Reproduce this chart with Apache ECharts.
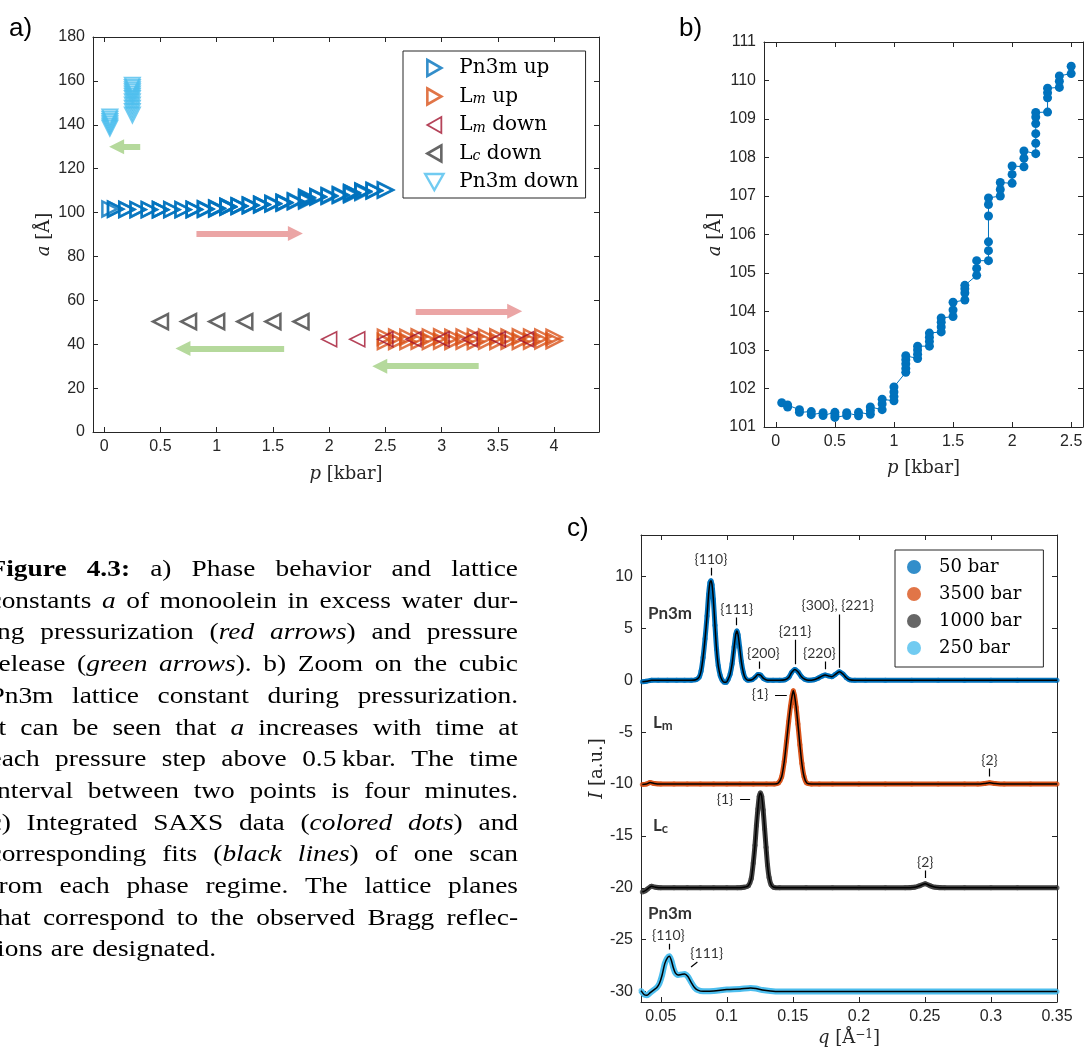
<!DOCTYPE html>
<html>
<head>
<meta charset="utf-8">
<title>Monoolein phase behaviour under pressure</title>
<script src="https://cdn.jsdelivr.net/npm/echarts@6/dist/echarts.min.js"></script>
<style>
  html, body { margin: 0; padding: 0; background: #fff; }
  #chart { width: 1084px; height: 1057px; }
</style>
</head>
<body>
<div id="chart"></div>
<script>
// ---------- panel a / b : lattice constant a [Å] vs p [kbar] ----------
const pn3mUpP = [0.05, 0.1, 0.1, 0.2, 0.2, 0.3, 0.3, 0.4, 0.4, 0.5, 0.5, 0.5, 0.6, 0.6, 0.7, 0.7,
  0.8, 0.8, 0.8, 0.9, 0.9, 0.9, 1, 1, 1, 1, 1.1, 1.1, 1.1, 1.1, 1.1, 1.2, 1.2, 1.2, 1.2,
  1.3, 1.3, 1.3, 1.3, 1.4, 1.4, 1.4, 1.4, 1.5, 1.5, 1.5, 1.6, 1.6, 1.6, 1.6, 1.7, 1.7, 1.7,
  1.8, 1.8, 1.8, 1.8, 1.8, 1.8, 1.9, 1.9, 1.9, 2, 2, 2, 2.1, 2.1, 2.1,
  2.2, 2.2, 2.2, 2.2, 2.2, 2.2, 2.3, 2.3, 2.3, 2.3, 2.4, 2.4, 2.4, 2.5, 2.5];
const pn3mUpA = [101.63, 101.57, 101.52, 101.45, 101.38, 101.40, 101.32, 101.37, 101.30,
  101.38, 101.31, 101.25, 101.30, 101.37, 101.29, 101.38, 101.33, 101.43, 101.52,
  101.45, 101.60, 101.72, 101.68, 101.79, 101.91, 102.04, 102.42, 102.52, 102.64, 102.75, 102.85,
  102.78, 102.89, 103.00, 103.10, 103.10, 103.22, 103.33, 103.44, 103.47, 103.60, 103.72, 103.83,
  103.87, 104.04, 104.24, 104.30, 104.48, 104.59, 104.68, 104.94, 105.12, 105.32,
  105.32, 105.58, 105.81, 106.48, 106.78, 106.95, 107.00, 107.17, 107.35, 107.33, 107.56, 107.78,
  107.76, 107.98, 108.17, 108.10, 108.37, 108.62, 108.88, 109.05, 109.17,
  109.18, 109.55, 109.68, 109.80, 109.82, 109.98, 110.12, 110.18, 110.37];

const lmUpP = [2.5, 2.5, 2.6, 2.6, 2.7, 2.7, 2.8, 2.8, 2.9, 2.9, 3.0, 3.0, 3.1, 3.1, 3.2, 3.2,
  3.3, 3.3, 3.4, 3.4, 3.5, 3.5, 3.6, 3.6, 3.7, 3.7, 3.8, 3.8, 3.9, 3.9, 4.0, 4.0];
const lmUpA = [41.2, 43.2, 41.3, 43.3, 41.2, 43.2, 41.4, 43.4, 41.3, 43.3, 41.4, 43.4, 41.3, 43.2,
  41.4, 43.3, 41.3, 43.4, 41.4, 43.3, 41.3, 43.4, 41.4, 43.3, 41.3, 43.4, 41.4, 43.3, 41.5, 43.3, 41.6, 43.2];
const lmDownP = [3.75, 3.5, 3.25, 3.0, 2.75, 2.5, 2.25, 2.0];
const lmDownA = [42.3, 42.3, 42.3, 42.3, 42.3, 42.3, 42.3, 42.3];
const lcDownP = [1.75, 1.5, 1.25, 1.0, 0.75, 0.5];
const lcDownA = [50.3, 50.3, 50.3, 50.3, 50.3, 50.3];
const pn3mDownP = [0.25, 0.25, 0.25, 0.25, 0.25, 0.25, 0.25, 0.25, 0.25, 0.25, 0.25, 0.25,
  0.05, 0.05, 0.05, 0.05, 0.05, 0.05];
const pn3mDownA = [158, 157, 156, 155, 154, 153, 152, 150.5, 149, 147.5, 146, 144.5,
  143.5, 142.5, 141.5, 140.5, 139.5, 138.5];

// arrows: tail p, tail a, head p, head a, direction
const arrowsA = [
  [0.82, 90.5, 1.70, 90.5, 'up'],
  [2.77, 55, 3.65, 55, 'up'],
  [0.32, 130, 0.11, 130, 'down'],
  [1.60, 38, 0.70, 38, 'down'],
  [3.33, 30, 2.45, 30, 'down'],
];

const aTicksX = [0, 0.5, 1, 1.5, 2, 2.5, 3, 3.5, 4];
const aTicksY = [0, 20, 40, 60, 80, 100, 120, 140, 160, 180];
const bTicksX = [0, 0.5, 1, 1.5, 2, 2.5];
const bTicksY = [101, 102, 103, 104, 105, 106, 107, 108, 109, 110, 111];

// ---------- panel c : SAXS intensity I vs q [1/Å], offset by scan ----------
const c50 = [[0.036, -0.15], [0.039, -0.1], [0.043, 0], [0.048, 0], [0.055, 0], [0.062, 0], [0.068, 0],
  [0.073, 0], [0.0765, 0.05], [0.079, 0.3], [0.0805, 0.9], [0.082, 2.2], [0.0835, 4.0], [0.085, 6.2],
  [0.0862, 8.3], [0.0872, 9.4], [0.088, 9.6], [0.0888, 9.2], [0.0898, 7.8], [0.091, 5.3], [0.0922, 3.0],
  [0.0935, 1.4], [0.095, 0.45], [0.0965, 0.0], [0.098, -0.2], [0.0995, -0.2], [0.101, 0.1], [0.1025, 0.6],
  [0.104, 1.6], [0.1055, 3.2], [0.1067, 4.4], [0.1076, 4.75], [0.1085, 4.4], [0.1097, 3.2], [0.111, 1.8],
  [0.1125, 0.75], [0.114, 0.2], [0.116, 0.0], [0.119, 0.05], [0.1215, 0.3], [0.1235, 0.55], [0.1255, 0.5],
  [0.128, 0.15], [0.131, 0.0], [0.135, 0], [0.14, 0], [0.144, 0.05], [0.147, 0.3], [0.149, 0.75],
  [0.1515, 1.05], [0.154, 0.8], [0.1565, 0.35], [0.159, 0.1], [0.162, 0.0], [0.166, 0.05], [0.169, 0.2],
  [0.172, 0.4], [0.1745, 0.5], [0.177, 0.42], [0.1795, 0.35], [0.182, 0.55], [0.1852, 0.82], [0.188, 0.6],
  [0.1905, 0.25], [0.193, 0.05], [0.197, 0], [0.205, 0], [0.22, 0], [0.24, 0], [0.26, 0], [0.28, 0],
  [0.3, 0], [0.32, 0], [0.35, 0]];
const c3500 = [[0.036, -10.05], [0.039, -10], [0.042, -9.85], [0.045, -9.95], [0.05, -10], [0.06, -10],
  [0.07, -10], [0.08, -10], [0.09, -10], [0.1, -10], [0.11, -10], [0.12, -10], [0.13, -10], [0.136, -10],
  [0.139, -9.9], [0.1415, -9.3], [0.1435, -7.8], [0.1452, -5.9], [0.1468, -4.0], [0.1482, -2.5],
  [0.1494, -1.5], [0.1503, -1.0], [0.1513, -1.5], [0.1525, -2.6], [0.1538, -4.2], [0.1553, -6.2],
  [0.1568, -8.0], [0.1585, -9.3], [0.1605, -9.9], [0.164, -10], [0.17, -10], [0.18, -10], [0.2, -10],
  [0.22, -10], [0.24, -10], [0.26, -10], [0.28, -10], [0.29, -10], [0.295, -9.95], [0.299, -9.88],
  [0.303, -9.95], [0.31, -10], [0.33, -10], [0.35, -10]];
const c1000 = [[0.036, -20.4], [0.038, -20.3], [0.04, -20.1], [0.043, -19.85], [0.046, -19.95], [0.05, -20],
  [0.06, -20], [0.07, -20], [0.08, -20], [0.09, -20], [0.1, -20], [0.108, -20], [0.113, -19.95],
  [0.1163, -19.8], [0.1185, -19.1], [0.12, -17.6], [0.1213, -15.9], [0.1224, -14.0], [0.1235, -12.4],
  [0.1245, -11.2], [0.1254, -10.85], [0.1264, -11.2], [0.1275, -12.5], [0.1286, -14.3], [0.1297, -16.1],
  [0.1308, -17.8], [0.132, -19.0], [0.1335, -19.7], [0.1355, -19.95], [0.14, -20], [0.16, -20], [0.18, -20],
  [0.2, -20], [0.22, -20], [0.235, -20], [0.242, -19.95], [0.246, -19.8], [0.2502, -19.6], [0.254, -19.8],
  [0.258, -19.95], [0.265, -20], [0.28, -20], [0.3, -20], [0.32, -20], [0.35, -20]];
const c250 = [[0.035, -29.9], [0.0375, -30.3], [0.0395, -30.35], [0.042, -30.1], [0.0445, -29.85],
  [0.047, -29.6], [0.049, -29.2], [0.051, -28.4], [0.053, -27.3], [0.055, -26.75], [0.0565, -26.6],
  [0.058, -27.0], [0.0595, -27.7], [0.061, -28.2], [0.063, -28.4], [0.0655, -28.35], [0.068, -28.3],
  [0.0705, -28.55], [0.073, -29.1], [0.0755, -29.6], [0.078, -29.85], [0.082, -29.97], [0.09, -29.95],
  [0.1, -29.8], [0.11, -29.75], [0.118, -29.65], [0.122, -29.7], [0.127, -29.85], [0.133, -29.95],
  [0.14, -30], [0.16, -30], [0.18, -30], [0.2, -30], [0.22, -30], [0.24, -30], [0.26, -30], [0.28, -30],
  [0.3, -30], [0.32, -30], [0.35, -30]];

const cScans = ['50 bar', '3500 bar', '1000 bar', '250 bar'];
const cTicksX = [0.05, 0.1, 0.15, 0.2, 0.25, 0.3, 0.35];
const cTicksY = [-30, -25, -20, -15, -10, -5, 0, 5, 10];

// Bragg reflection labels: q, I, text
const cPeakLabels = [
  [0.088, 11.63, '{110}'], [0.1075, 6.83, '{111}'], [0.1277, 2.6, '{200}'], [0.1517, 4.74, '{211}'],
  [0.1701, 2.6, '{220}'], [0.184, 7.24, '{300}, {221}'], [0.1252, -1.41, '{1}'], [0.2989, -7.76, '{2}'],
  [0.0986, -11.44, '{1}'], [0.2502, -17.53, '{2}'], [0.0557, -24.58, '{110}'], [0.0848, -26.35, '{111}'],
];
const cPeakMarks = [
  [0.088, 10.1, 0.088, 10.85], [0.1075, 5.3, 0.1075, 6.05], [0.1244, 1.1, 0.1244, 1.8],
  [0.1517, 1.55, 0.1517, 3.9], [0.1744, 1.06, 0.1744, 1.8], [0.1852, 1.22, 0.1852, 6.35],
  [0.1365, -1.41, 0.1454, -1.41], [0.2989, -9.26, 0.2989, -8.49], [0.110, -11.44, 0.1176, -11.44],
  [0.2502, -19.04, 0.2502, -18.33], [0.0565, -25.93, 0.0565, -25.38], [0.0729, -27.63, 0.0777, -27.15],
];
const cPhaseLabels = [[0.0403, 6.44, 'Pn3m'], [0.0441, -4.04, 'L_m'], [0.0441, -14.0, 'L_c'], [0.0403, -22.5, 'Pn3m']];

// ---------- caption ----------
const captionLines = [
  '*Figure* *4.3:* a) Phase behavior and lattice',
  'constants _a_ of monoolein in excess water dur-',
  'ing pressurization (_red_ _arrows_) and pressure',
  'release (_green_ _arrows_). b) Zoom on the cubic',
  'Pn3m lattice constant during pressurization.',
  'It can be seen that _a_ increases with time at',
  'each pressure step above 0.5\u2009kbar. The time',
  'interval between two points is four minutes.',
  'c) Integrated SAXS data (_colored_ _dots_) and',
  'corresponding fits (_black_ _lines_) of one scan',
  'from each phase regime. The lattice planes',
  'that correspond to the observed Bragg reflec-',
  'tions are designated.',
];

const axisColor = '#262626';
const serif = '"DejaVu Serif", "Liberation Serif", serif';
const sans = '"Liberation Sans", Arial, sans-serif';
const labelSans = 'Lato, "Open Sans", sans-serif';

const zip = (xs, ys) => xs.map((x, i) => [x, ys[i]]);

const nameStyle = {
  fontFamily: serif, fontSize: 18, color: axisColor,
  rich: {
    i: { fontFamily: serif, fontSize: 18, fontStyle: 'italic', color: axisColor },
    sup: { fontFamily: serif, fontSize: 12, color: axisColor, verticalAlign: 'top', lineHeight: 12 },
  },
};

function makeAxes(dim, grid, min, max, ticks, name, nameGap) {
  const base = {
    type: 'value', gridIndex: grid, min, max,
    axisLine: { show: true, onZero: false, lineStyle: { color: axisColor, width: 1 } },
    axisTick: { show: true, inside: true, length: 5, customValues: ticks, lineStyle: { color: axisColor } },
    splitLine: { show: false },
  };
  const main = Object.assign({}, base, {
    position: dim === 'x' ? 'bottom' : 'left',
    axisLabel: { color: axisColor, fontFamily: sans, fontSize: 16, margin: dim === 'x' ? 7 : 8, customValues: ticks },
    name, nameLocation: 'middle', nameGap, nameTextStyle: nameStyle,
    nameRotate: dim === 'x' ? 0 : 90,
  });
  const mirror = Object.assign({}, base, {
    position: dim === 'x' ? 'top' : 'right',
    axisLabel: { show: false },
  });
  return [main, mirror];
}

const xAxes = [
  ...makeAxes('x', 0, -0.1, 4.4, aTicksX, '{i|p} [kbar]', 33),
  ...makeAxes('x', 1, -0.1, 2.6, bTicksX, '{i|p} [kbar]', 32),
  ...makeAxes('x', 2, 0.035, 0.35, cTicksX, '{i|q} [Å{sup|−1}]', 27),
];
const yAxes = [
  ...makeAxes('y', 0, 0, 180, aTicksY, '{i|a} [Å]', 40),
  ...makeAxes('y', 1, 101, 111, bTicksY, '{i|a} [Å]', 40),
  ...makeAxes('y', 2, -31, 14, cTicksY, '{i|I} [a.u.]', 34),
];

function hollow(name, p, a, color, rotate, width) {
  return {
    name, type: 'scatter', xAxisIndex: 0, yAxisIndex: 0,
    symbol: 'triangle', symbolSize: 15, symbolRotate: rotate,
    itemStyle: { color: 'rgba(0,0,0,0)', borderColor: color, borderWidth: width },
    data: zip(p, a), silent: true,
  };
}

const arrowColors = { up: '#EBA5A5', down: '#B5D99C' };

const cColors = ['#0072BD', '#D95319', '#404040', '#4DBEEE'];
const cData = [c50, c3500, c1000, c250];
const cBands = cData.map((d, i) => ({
  name: cScans[i] + ' band', type: 'line', xAxisIndex: 4, yAxisIndex: 4, data: d,
  smooth: 0.25, symbol: 'none', silent: true,
  lineStyle: { color: cColors[i], width: i === 3 ? 6 : 5 },
}));
const cDots = cData.map((d, i) => ({
  name: cScans[i], type: 'scatter', xAxisIndex: 4, yAxisIndex: 4, data: d,
  symbolSize: 5, silent: true, itemStyle: { color: cColors[i] },
}));
const cFits = cData.map((d, i) => ({
  name: cScans[i] + ' fit', type: 'line', xAxisIndex: 4, yAxisIndex: 4, data: d,
  smooth: 0.25, symbol: 'none', silent: true,
  lineStyle: { color: '#000', width: 1.5 },
}));

const iconRight = 'path://M0,0L14,8L0,16Z';
const iconLeft = 'path://M14,0L0,8L14,16Z';
const iconDown = 'path://M0,0L16,0L8,14Z';
const legendRich = {
  r: { fontFamily: serif, fontSize: 20, lineHeight: 20, color: '#000' },
  s: { fontFamily: serif, fontSize: 14, fontStyle: 'italic', lineHeight: 8, verticalAlign: 'bottom', color: '#000' },
};
const legendNames = {
  'Pn3m up': '{r|Pn3m up}', 'Lm up': '{r|L}{s|m}{r| up}', 'Lm down': '{r|L}{s|m}{r| down}',
  'Lc down': '{r|L}{s|c}{r| down}', 'Pn3m down': '{r|Pn3m down}',
};
const legendIconStyle = (color, width) => ({ color: 'rgba(0,0,0,0)', borderColor: color, borderWidth: width });

// caption words, justified with measured widths
const capSize = 23, capScale = 1.19;
const capFonts = {
  r: capSize + 'px "Liberation Serif"',
  i: 'italic ' + capSize + 'px "Liberation Serif"',
  b: 'bold ' + capSize + 'px "Liberation Serif"',
};
const capRich = {
  r: { fontFamily: 'Liberation Serif', fontSize: capSize, fill: '#000' },
  i: { fontFamily: 'Liberation Serif', fontSize: capSize, fontStyle: 'italic', fill: '#000' },
  b: { fontFamily: 'Liberation Serif', fontSize: capSize, fontWeight: 'bold', fill: '#000' },
};
const measure = document.createElement('canvas').getContext('2d');
function wordPieces(word) {
  return word.match(/\*[^*]+\*|_[^_]+_|[^*_]+/g).map((s) =>
    s[0] === '*' ? ['b', s.slice(1, -1)] : s[0] === '_' ? ['i', s.slice(1, -1)] : ['r', s]);
}
function piecesWidth(pieces) {
  return capScale * pieces.reduce((w, [k, t]) => { measure.font = capFonts[k]; return w + measure.measureText(t).width; }, 0);
}
const captionLeft = -10.5, captionRight = 518, captionTop = 570, captionStep = 31.7;
const captionGraphics = [];
captionLines.forEach((line, li) => {
  const words = line.split(' ').map(wordPieces);
  const widths = words.map(piecesWidth);
  const total = widths.reduce((s, w) => s + w, 0);
  const gap = li === captionLines.length - 1 ? 8 : Math.max(4, (captionRight - captionLeft - total) / (words.length - 1));
  let x = captionLeft;
  words.forEach((pieces, wi) => {
    captionGraphics.push({
      type: 'text', x, y: captionTop + li * captionStep, scaleX: capScale, silent: true,
      style: { text: pieces.map(([k, t]) => '{' + k + '|' + t + '}').join(''), rich: capRich, verticalAlign: 'middle', fill: '#000' },
    });
    x += widths[wi] + gap;
  });
});

const panelLetters = [['a)', 9, 16], ['b)', 679, 16], ['c)', 567, 516]].map(([t, x, y]) => ({
  type: 'text', x, y, silent: true, style: { text: t, font: '26px "Liberation Sans"', fill: '#000' },
}));

const chart = echarts.init(document.getElementById('chart'), null, { renderer: 'canvas' });
chart.setOption({
  backgroundColor: '#fff',
  animation: false,
  grid: [
    { left: 93, top: 37, width: 506, height: 395, outerBoundsMode: 'none' },
    { left: 764, top: 42, width: 319, height: 385, outerBoundsMode: 'none' },
    { left: 641, top: 535, width: 416, height: 467, outerBoundsMode: 'none' },
  ],
  xAxis: xAxes,
  yAxis: yAxes,
  legend: [
    {
      data: [
        { name: 'Pn3m up', icon: iconRight, itemStyle: legendIconStyle('#0072BD', 2.6) },
        { name: 'Lm up', icon: iconRight, itemStyle: legendIconStyle('#D95319', 2.6) },
        { name: 'Lm down', icon: iconLeft, itemStyle: legendIconStyle('#A2142F', 1.8) },
        { name: 'Lc down', icon: iconLeft, itemStyle: legendIconStyle('#404040', 2.6) },
        { name: 'Pn3m down', icon: iconDown, itemStyle: legendIconStyle('#4DBEEE', 2.4) },
      ],
      orient: 'vertical', left: 403, top: 51, align: 'left',
      padding: [7, 7, 6, 21], itemGap: 8.5, itemWidth: 40, itemHeight: 16,
      symbolKeepAspect: true, symbolRotate: 0,
      backgroundColor: '#fff', borderColor: axisColor, borderWidth: 1, borderRadius: 0,
      selectedMode: false,
      formatter: (name) => legendNames[name],
      textStyle: { fontFamily: serif, fontSize: 20, lineHeight: 20, color: '#000', rich: legendRich },
    },
    {
      data: cScans,
      orient: 'vertical', left: 895, top: 550, align: 'left',
      padding: [7, 22, 9, 12], itemGap: 7, itemWidth: 40, itemHeight: 14,
      backgroundColor: '#fff', borderColor: axisColor, borderWidth: 1, borderRadius: 0,
      selectedMode: false,
      textStyle: { fontFamily: serif, fontSize: 18, lineHeight: 20, color: '#000' },
    },
  ],
  graphic: [...panelLetters, ...captionGraphics],
  series: [
    hollow('Pn3m up', pn3mUpP, pn3mUpA, '#0072BD', -90, 2.5),
    hollow('Lm up', lmUpP, lmUpA, '#D95319', -90, 2.5),
    hollow('Lm down', lmDownP, lmDownA, '#A2142F', 90, 1.6),
    hollow('Lc down', lcDownP, lcDownA, '#404040', 90, 2.5),
    hollow('Pn3m down', pn3mDownP, pn3mDownA, '#4DBEEE', 180, 2),
    {
      name: 'arrows', type: 'lines', coordinateSystem: 'cartesian2d', xAxisIndex: 0, yAxisIndex: 0,
      symbol: ['none', 'triangle'], symbolSize: 15, silent: true,
      data: arrowsA.map(([x1, y1, x2, y2, dir]) => ({
        coords: [[x1, y1], [x2, y2]],
        lineStyle: { color: arrowColors[dir], width: 6, opacity: 1 },
      })),
    },
    {
      name: 'Pn3m zoom', type: 'line', xAxisIndex: 2, yAxisIndex: 2,
      data: zip(pn3mUpP, pn3mUpA), symbol: 'circle', symbolSize: 9, showAllSymbol: true, silent: true,
      lineStyle: { color: '#0072BD', width: 1 }, itemStyle: { color: '#0072BD' },
    },
    ...cBands,
    ...cDots,
    ...cFits,
    {
      name: 'reflection marks', type: 'lines', coordinateSystem: 'cartesian2d', xAxisIndex: 4, yAxisIndex: 4,
      symbol: 'none', silent: true,
      lineStyle: { color: '#000', width: 1.2, opacity: 1 },
      data: cPeakMarks.map(([x1, y1, x2, y2]) => ({ coords: [[x1, y1], [x2, y2]] })),
    },
    {
      name: 'reflection labels', type: 'scatter', xAxisIndex: 4, yAxisIndex: 4, silent: true,
      symbolSize: 1, itemStyle: { color: 'rgba(0,0,0,0)' },
      label: {
        show: true, position: 'inside', align: 'center', verticalAlign: 'middle',
        color: '#000', fontFamily: labelSans, fontSize: 14,
        formatter: (p) => p.data.text,
      },
      data: cPeakLabels.map(([q, v, t]) => ({ value: [q, v], text: t })),
    },
    {
      name: 'phase labels', type: 'scatter', xAxisIndex: 4, yAxisIndex: 4, silent: true,
      symbolSize: 1, itemStyle: { color: 'rgba(0,0,0,0)' },
      label: {
        show: true, position: 'inside', align: 'left', verticalAlign: 'middle',
        color: '#000', fontFamily: labelSans, fontSize: 17, fontWeight: 'bold',
        formatter: (p) => p.data.text.replace(/^L_(\w)$/, '{pb|L}{ps|$1}'),
        rich: {
          pb: { fontFamily: labelSans, fontSize: 17, fontWeight: 'bold', lineHeight: 20, color: '#000' },
          ps: { fontFamily: labelSans, fontSize: 13, fontWeight: 'bold', lineHeight: 7, verticalAlign: 'bottom', color: '#000' },
        },
      },
      data: cPhaseLabels.map(([q, v, t]) => ({ value: [q, v], text: t })),
    },
  ],
});
</script>
</body>
</html>
